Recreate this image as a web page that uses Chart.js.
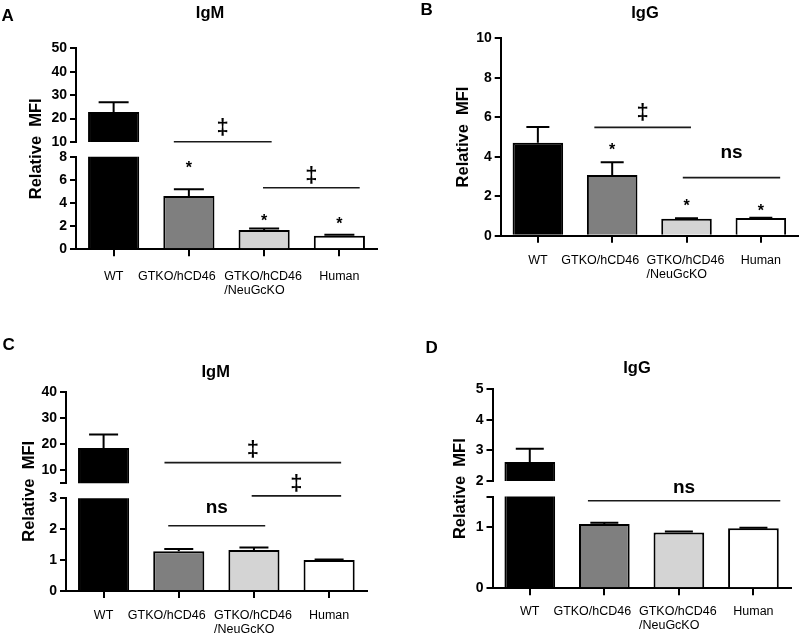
<!DOCTYPE html>
<html>
<head>
<meta charset="utf-8">
<script src="https://cdn.jsdelivr.net/npm/chart.js@4.4.1/dist/chart.umd.min.js"></script>
<style>
  html, body { margin: 0; padding: 0; background: #fff; }
  #wrap { position: relative; width: 800px; height: 635px; }
  #wrap canvas { position: absolute; left: 0; top: 0; }
</style>
</head>
<body>
<div id="wrap"></div>
<script>
var categories = ['WT', 'GTKO/hCD46', ['GTKO/hCD46', '/NeuGcKO'], 'Human'];
var barColors = ['#000000', '#7f7f7f', '#d4d4d4', '#ffffff'];

// A - IgM (broken axis: 10-50 over 0-8)
var aMeans = [22.8, 4.6, 1.67, 1.18];
var aErrors = [4.2, 0.58, 0.12, 0.07];
var aUpperTicks = [10, 20, 30, 40, 50];
var aLowerTicks = [0, 2, 4, 6, 8];
var aStars = [null, 7.34, 2.76, 2.53];
var aBrackets = [
  { seg: 'top', from: 0.80, to: 2.10, y: 10.1, mark: '‡', markY: 16.4 },
  { seg: 'bot', from: 1.985, to: 3.27, y: 5.32, mark: '‡', markY: 6.42 }
];

// B - IgG
var bMeans = [4.71, 3.07, 0.86, 0.9];
var bErrors = [0.8, 0.65, 0.02, 0.01];
var bTicks = [0, 2, 4, 6, 8, 10];
var bStars = [null, 4.56, 1.69, 1.44];
var bBrackets = [
  { seg: 'bot', from: 0.76, to: 2.06, y: 5.49, mark: '‡', markY: 6.28 },
  { seg: 'bot', from: 1.95, to: 3.26, y: 2.94, mark: 'ns', markY: 4.2 }
];

// C - IgM (broken axis: 5-40 over 0-3)
var cMeans = [18.5, 1.29, 1.33, 1.0];
var cErrors = [5.1, 0.07, 0.08, 0.02];
var cUpperTicks = [5, 10, 20, 30, 40];
var cUpperTickLabels = ['', '10', '20', '30', '40'];
var cLowerTicks = [0, 1, 2, 3];
var cBrackets = [
  { seg: 'top', from: 0.81, to: 3.16, y: 12.9, mark: '‡', markY: 18.0 },
  { seg: 'bot', from: 1.97, to: 3.16, y: 3.08, mark: '‡', markY: 3.49 },
  { seg: 'bot', from: 0.86, to: 2.15, y: 2.11, mark: 'ns', markY: 2.70 }
];

// D - IgG (broken axis: 2-5 over 0-1.5)
var dMeans = [2.62, 1.05, 0.91, 0.98];
var dErrors = [0.43, 0.02, 0.02, 0.01];
var dUpperTicks = [2, 3, 4, 5];
var dLowerTicks = [0, 1, 1.5];
var dLowerTickLabels = ['0', '1', ''];
var dBrackets = [
  { seg: 'bot', from: 0.78, to: 3.36, y: 1.43, mark: 'ns', markY: 1.64 }
];

var FONT = '"Liberation Sans", Arial, sans-serif';
var W = 800, H = 635, X_AXIS_H = 50, Y_AXIS_W = 40;
// x labels sit a little left of some bars in the original
var labelShift = [0, -12, -1, 0];

var panels = [
  { letter: 'A', letterPos: [1.5, 20.7], title: 'IgM', titlePos: [210, 17.5],
    left: 76, right: 377, xLabelY: 27.4, cap: 30, yTitleOff: 40,
    means: aMeans, errors: aErrors, stars: aStars, brackets: aBrackets,
    segs: [{ top: 48.3, bottom: 142, ticks: aUpperTicks },
           { top: 156.7, bottom: 249.3, ticks: aLowerTicks }] },
  { letter: 'B', letterPos: [420.5, 15], title: 'IgG', titlePos: [645, 18],
    left: 500.7, right: 798, xLabelY: 25.3, cap: 23, yTitleOff: 37,
    means: bMeans, errors: bErrors, stars: bStars, brackets: bBrackets,
    segs: [{ top: 38.3, bottom: 235.7, ticks: bTicks }] },
  { letter: 'C', letterPos: [2.6, 350], title: 'IgM', titlePos: [215.7, 377],
    left: 66, right: 366.7, xLabelY: 25, cap: 29, yTitleOff: 37,
    means: cMeans, errors: cErrors, stars: null, brackets: cBrackets,
    segs: [{ top: 391.7, bottom: 483.3, ticks: cUpperTicks, labels: cUpperTickLabels },
           { top: 498.3, bottom: 591, ticks: cLowerTicks }] },
  { letter: 'D', letterPos: [425.5, 352.7], title: 'IgG', titlePos: [637, 372.5],
    left: 492.5, right: 790.7, xLabelY: 23.6, cap: 28, yTitleOff: 32,
    means: dMeans, errors: dErrors, stars: null, brackets: dBrackets,
    segs: [{ top: 389, bottom: 481, ticks: dUpperTicks },
           { top: 496.5, bottom: 588.3, ticks: dLowerTicks, labels: dLowerTickLabels }] }
];

var wrap = document.getElementById('wrap');

function newCanvas() {
  var c = document.createElement('canvas');
  c.width = W;
  c.height = H;
  wrap.appendChild(c);
  return c.getContext('2d');
}

// upper half of SEM bars, clipped to the segment
function errorBarPlugin(p) {
  return {
    id: 'errorBars',
    afterDatasetsDraw: function (chart) {
      var ctx = chart.ctx, a = chart.chartArea, ys = chart.scales.y;
      var bars = chart.getDatasetMeta(0).data;
      ctx.save();
      ctx.beginPath();
      ctx.rect(a.left, a.top - 1, a.right - a.left, a.bottom - a.top + 1);
      ctx.clip();
      ctx.strokeStyle = '#000';
      ctx.lineWidth = 2;
      bars.forEach(function (bar, i) {
        var y0 = ys.getPixelForValue(p.means[i]);
        var y1 = ys.getPixelForValue(p.means[i] + p.errors[i]);
        ctx.beginPath();
        ctx.moveTo(bar.x, y0);
        ctx.lineTo(bar.x, y1);
        ctx.moveTo(bar.x - p.cap / 2, y1);
        ctx.lineTo(bar.x + p.cap / 2, y1);
        ctx.stroke();
      });
      ctx.restore();
    }
  };
}

// letter, title, category labels, y title, brackets and stars
function panelPlugin(p) {
  return {
    id: 'panelText',
    afterDraw: function (chart) {
      var ctx = chart.ctx, a = chart.chartArea, xs = chart.scales.x;
      var upper = p.upper || chart;
      var scaleFor = { top: upper.scales.y, bot: chart.scales.y };
      ctx.save();
      ctx.fillStyle = '#000';

      ctx.font = 'bold 17px ' + FONT;
      ctx.textAlign = 'left';
      ctx.textBaseline = 'alphabetic';
      ctx.fillText(p.letter, p.letterPos[0], p.letterPos[1]);

      ctx.font = 'bold 16.5px ' + FONT;
      ctx.textAlign = 'center';
      ctx.fillText(p.title, p.titlePos[0], p.titlePos[1]);

      // category labels, multi-line ones left aligned as in Prism
      ctx.font = '12.5px ' + FONT;
      ctx.textAlign = 'left';
      ctx.textBaseline = 'middle';
      chart.data.labels.forEach(function (lab, i) {
        var lines = Array.isArray(lab) ? lab : [lab];
        var w = Math.max.apply(null, lines.map(function (t) { return ctx.measureText(t).width; }));
        var x = xs.getPixelForValue(i) - w / 2 + labelShift[i];
        lines.forEach(function (t, k) {
          ctx.fillText(t, x, a.bottom + p.xLabelY + k * 14);
        });
      });

      ctx.textAlign = 'center';
      var midY = (upper.chartArea.top + a.bottom) / 2;
      ctx.save();
      ctx.translate(a.left - p.yTitleOff, midY);
      ctx.rotate(-Math.PI / 2);
      ctx.font = 'bold 16.5px ' + FONT;
      ctx.textBaseline = 'middle';
      ctx.fillText('Relative  MFI', 0, 0);
      ctx.restore();

      ctx.strokeStyle = '#1a1a1a';
      ctx.lineWidth = 1.6;
      p.brackets.forEach(function (b) {
        var ys = scaleFor[b.seg];
        var y = ys.getPixelForValue(b.y);
        var x0 = xs.getPixelForValue(b.from), x1 = xs.getPixelForValue(b.to);
        ctx.beginPath();
        ctx.moveTo(x0, y);
        ctx.lineTo(x1, y);
        ctx.stroke();
        ctx.textBaseline = 'middle';
        var isNs = b.mark === 'ns';
        ctx.font = 'bold ' + (isNs ? 19 : 22) + 'px ' + FONT;
        ctx.fillText(b.mark, (x0 + x1) / 2, ys.getPixelForValue(b.markY) + (isNs ? 0 : 1));
      });

      if (p.stars) {
        ctx.font = 'bold 16px ' + FONT;
        ctx.textBaseline = 'alphabetic';
        p.stars.forEach(function (v, i) {
          if (v === null) return;
          ctx.fillText('*', xs.getPixelForValue(i), chart.scales.y.getPixelForValue(v) + 9);
        });
      }
      ctx.restore();
    }
  };
}

function segmentChart(p, seg, isBottom) {
  var labels = seg.labels || seg.ticks.map(String);
  var plugins = [errorBarPlugin(p)];
  if (isBottom) plugins.push(panelPlugin(p));
  return new Chart(newCanvas(), {
    type: 'bar',
    data: {
      labels: categories,
      datasets: [{
        data: p.means,
        backgroundColor: barColors,
        borderColor: '#000',
        borderWidth: 2,
        borderSkipped: 'start',
        categoryPercentage: 1,
        barPercentage: 0.68,
        clip: 0
      }]
    },
    options: {
      responsive: false,
      animation: false,
      events: [],
      layout: {
        padding: {
          left: p.left - Y_AXIS_W,
          right: W - p.right,
          top: seg.top,
          bottom: H - seg.bottom - (isBottom ? X_AXIS_H : 0)
        }
      },
      plugins: { legend: { display: false }, tooltip: { enabled: false } },
      scales: {
        x: {
          display: isBottom,
          offset: true,
          z: 1,
          grid: { offset: false, drawOnChartArea: false, tickLength: 7, lineWidth: 2, color: '#000' },
          border: { display: true, width: 2, color: '#000' },
          ticks: { display: false },
          afterFit: function (s) { if (isBottom) s.height = X_AXIS_H; }
        },
        y: {
          min: seg.ticks[0],
          max: seg.ticks[seg.ticks.length - 1],
          z: 1,
          afterBuildTicks: function (s) {
            s.ticks = seg.ticks.map(function (v) { return { value: v }; });
          },
          grid: { drawOnChartArea: false, tickLength: 6, lineWidth: 2, color: '#000' },
          border: { display: true, width: 2, color: '#000' },
          ticks: {
            color: '#000', padding: 3,
            font: { family: FONT, size: 14, weight: 'bold' },
            callback: function (v, i) { return labels[i]; }
          },
          afterFit: function (s) { s.width = Y_AXIS_W; }
        }
      }
    },
    plugins: plugins
  });
}

panels.forEach(function (p) {
  if (p.segs.length > 1) {
    p.upper = segmentChart(p, p.segs[0], false);
  }
  segmentChart(p, p.segs[p.segs.length - 1], true);
});
</script>
</body>
</html>
